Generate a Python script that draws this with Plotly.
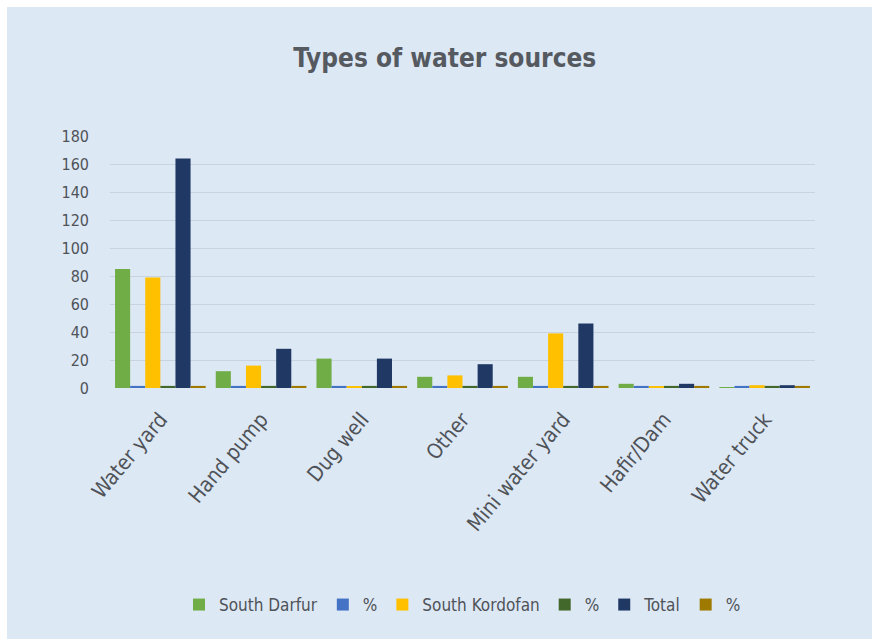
import plotly.graph_objects as go

categories = ["Water yard", "Hand pump", "Dug well", "Other", "Mini water yard", "Hafir/Dam", "Water truck"]
south_darfur = [85, 12, 21, 8, 8, 3, 0.5]
south_darfur_pct = [1.5, 1.5, 1.5, 1.5, 1.5, 1.5, 1.5]
south_kordofan = [79, 16, 1, 9, 39, 1, 2]
south_kordofan_pct = [1.5, 1.5, 1.5, 1.5, 1.5, 1.5, 1.5]
total = [164, 28, 21, 17, 46, 3, 2]
total_pct = [1.5, 1.5, 1.5, 1.5, 1.5, 1.5, 1.5]
y_ticks = [0, 20, 40, 60, 80, 100, 120, 140, 160, 180]

series = [
    ("South Darfur", south_darfur, "#70ad47"),
    ("%", south_darfur_pct, "#4472c4"),
    ("South Kordofan", south_kordofan, "#ffc000"),
    ("%", south_kordofan_pct, "#43682b"),
    ("Total", total, "#203864"),
    ("%", total_pct, "#9e7a00"),
]

FONT = "DejaVu Sans Condensed, Open Sans, sans-serif"
W, H = 872, 639
ML, MR, MT, MB = 110, 57, 136, 251

fig = go.Figure()
for name, vals, col in series:
    fig.add_trace(go.Bar(x=categories, y=vals, name=name, marker_color=col,
                         marker_line_width=0))

ph = H - MT - MB
pw = W - ML - MR
fig.update_layout(
    width=W, height=H,
    margin=dict(l=ML, r=MR, t=MT, b=MB),
    paper_bgcolor="#dde8f5",
    plot_bgcolor="#dde8f5",
    barmode="group",
    bargap=0.1,
    bargroupgap=0.0,
    font=dict(family=FONT, color="#595959", size=15),
    title=dict(text="<b>Types of water sources</b>", x=0.51, xanchor="center",
               y=1 - 58 / H, yanchor="middle",
               font=dict(family=FONT, size=26, color="#555a60")),
    xaxis=dict(tickangle=-50, showgrid=False, showline=False, ticks="",
               ticklabelstandoff=14,
               tickfont=dict(size=21, color="#4f5358")),
    yaxis=dict(range=[0, 180], tickvals=y_ticks, showgrid=True,
               gridcolor="#c9d3df", gridwidth=1, zeroline=False,
               tickfont=dict(size=16, color="#4f5358"), ticklabelstandoff=20),
    legend=dict(orientation="h", x=0.5, xanchor="center", y=-(605 - (MT + ph)) / ph,
                yanchor="middle", font=dict(size=17, color="#4f5358"),
                itemwidth=30, traceorder="normal", bgcolor="rgba(0,0,0,0)"),
    showlegend=True,
    shapes=[
        dict(type="rect", xref="paper", yref="paper",
             x0=-ML / pw, x1=1 + MR / pw, y0=1 + (MT - 7) / ph, y1=1 + MT / ph,
             fillcolor="white", line_width=0, layer="below"),
        dict(type="rect", xref="paper", yref="paper",
             x0=-ML / pw, x1=-(ML - 7) / pw, y0=-MB / ph, y1=1 + MT / ph,
             fillcolor="white", line_width=0, layer="below"),
    ],
)

fig.write_html("out.html")
